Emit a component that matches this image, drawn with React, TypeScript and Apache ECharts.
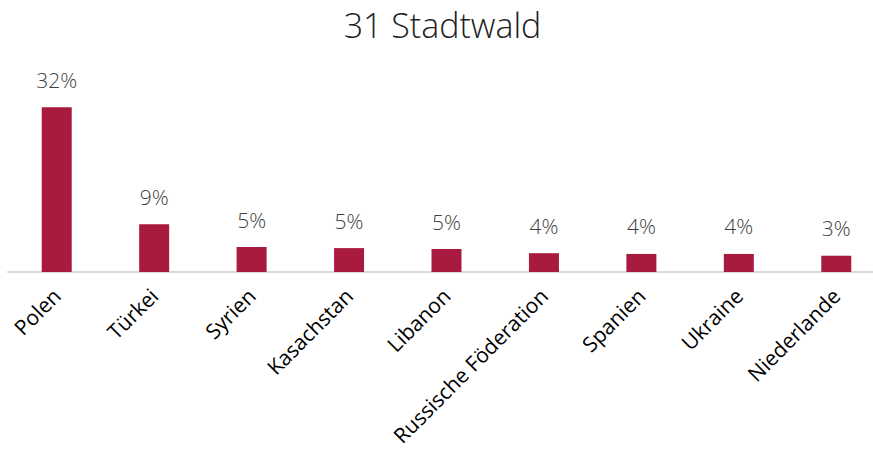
import React, { useEffect, useRef } from "react";
import * as echarts from "echarts";

const categories = ["Polen", "Türkei", "Syrien", "Kasachstan", "Libanon", "Russische Föderation", "Spanien", "Ukraine", "Niederlande"];
const values = [32.4, 9.4, 4.9, 4.7, 4.52, 3.7, 3.55, 3.55, 3.2];
const titleText = "31 Stadtwald";

export default function App() {
  const ref = useRef<HTMLDivElement>(null);
  useEffect(() => {
    const chart = echarts.init(ref.current!, null, { renderer: "svg" });
    chart.setOption({
      animation: false,
      title: {
        text: titleText,
        left: "center",
        top: 3,
        textStyle: { fontFamily: "Open Sans", fontWeight: 300, fontSize: 34, color: "#222" },
      },
      grid: { left: 8, right: 0, top: 94, bottom: 182, containLabel: false },
      xAxis: {
        type: "category",
        data: categories,
        axisTick: { show: false },
        axisLine: { lineStyle: { color: "#d9d9d9", width: 2 } },
        axisLabel: {
          rotate: 45,
          interval: 0,
          margin: 20,
          fontFamily: "Open Sans",
          fontSize: 21,
          color: "#000",
        },
      },
      yAxis: { type: "value", min: 0, max: 35, show: false, splitLine: { show: false } },
      series: [
        {
          type: "bar",
          data: values,
          barWidth: 30,
          itemStyle: { color: "#a81a3e" },
          label: {
            show: true,
            position: "top",
            distance: 17,
            formatter: (p: any) => Math.round(p.value) + "%",
            fontFamily: "Open Sans",
            fontWeight: 300,
            fontSize: 21,
            color: "#404040",
          },
        },
      ],
    });
    return () => chart.dispose();
  }, []);
  return (
    <div style={{ position: "absolute", left: 0, top: 0, width: 873, height: 454, overflow: "hidden" }}>
      <div ref={ref} style={{ width: 885, height: 454 }} />
    </div>
  );
}
